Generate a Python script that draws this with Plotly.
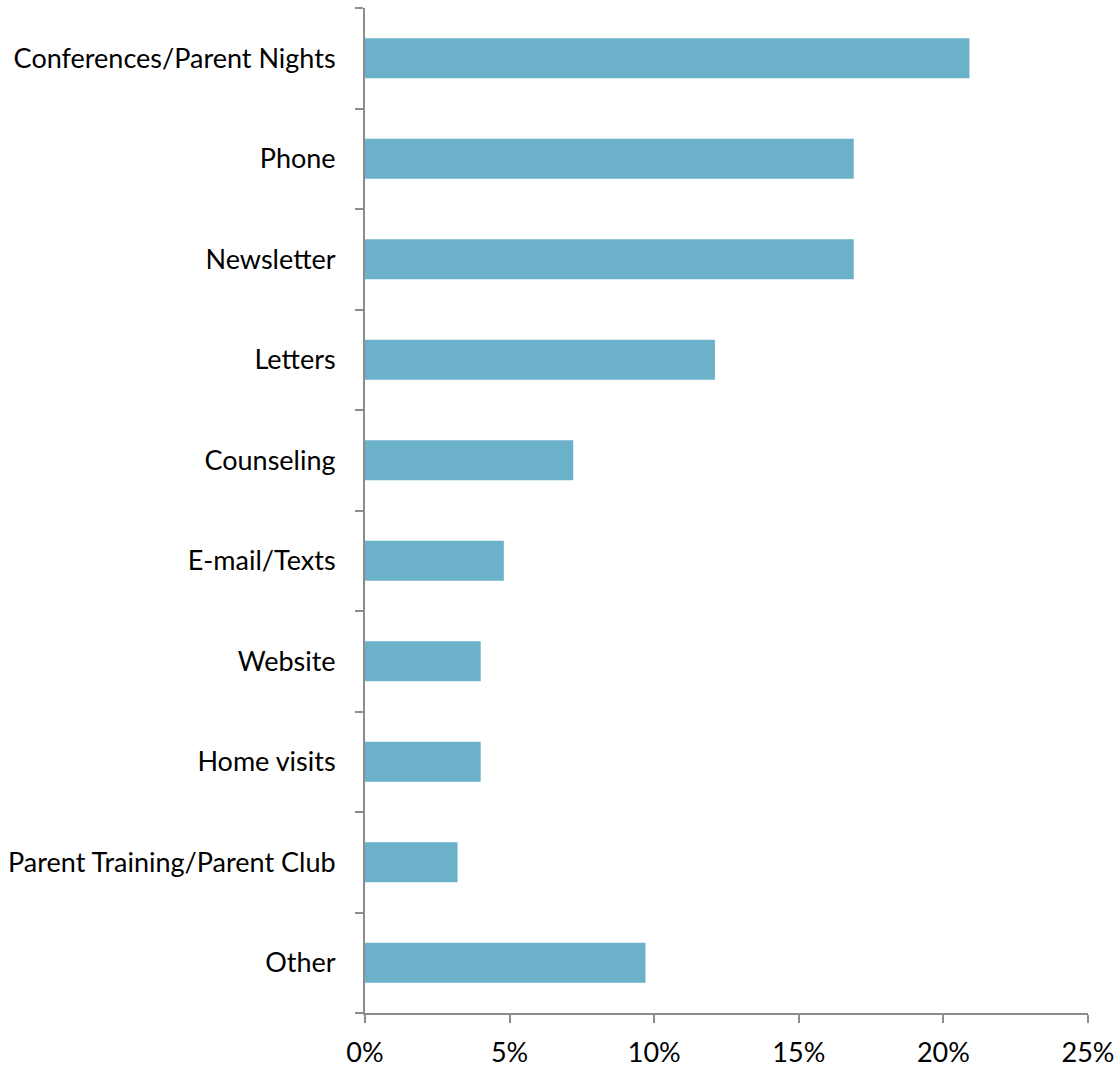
import plotly.graph_objects as go

categories = ["Conferences/Parent Nights", "Phone", "Newsletter", "Letters", "Counseling",
              "E-mail/Texts", "Website", "Home visits", "Parent Training/Parent Club", "Other"]
values = [0.209, 0.169, 0.169, 0.121, 0.072, 0.048, 0.040, 0.040, 0.032, 0.097]
x_ticks = [0, 0.05, 0.10, 0.15, 0.20, 0.25]
x_tick_labels = ["0%", "5%", "10%", "15%", "20%", "25%"]

fig = go.Figure(go.Bar(
    y=categories, x=values, orientation="h",
    marker=dict(color="#6BB1C9", line=dict(width=0)),
    width=0.4,
))

fig.update_layout(
    width=1120, height=1068,
    margin=dict(l=365, r=32, t=8, b=55, pad=0, autoexpand=False),
    paper_bgcolor="white", plot_bgcolor="white",
    font=dict(family="Lato", size=27, color="black"),
    showlegend=False,
)
fig.update_xaxes(
    range=[0, 0.25], tickvals=x_ticks, ticktext=x_tick_labels,
    showgrid=False, zeroline=False, showline=True, linecolor="#8c8c8c", linewidth=2,
    ticks="outside", ticklen=8, tickwidth=2, tickcolor="#8c8c8c",
    tickfont=dict(family="Lato", size=27, color="black"),
    ticklabelstandoff=7, ticklabeloverflow="allow", automargin=False,
)
fig.update_yaxes(
    categoryorder="array", categoryarray=categories[::-1],
    range=[-0.5, 9.5],
    showgrid=False, zeroline=False, showline=True, linecolor="#8c8c8c", linewidth=2,
    ticks="outside", ticklen=8, tickwidth=2, tickcolor="#8c8c8c", tickson="boundaries",
    tickfont=dict(family="Lato", size=27, color="black"),
    ticklabelstandoff=22, automargin=False,
)

fig.write_html(
    "out.html",
    config={"displayModeBar": False},
    post_script="document.body.style.margin='0';document.body.style.overflow='hidden';",
)
